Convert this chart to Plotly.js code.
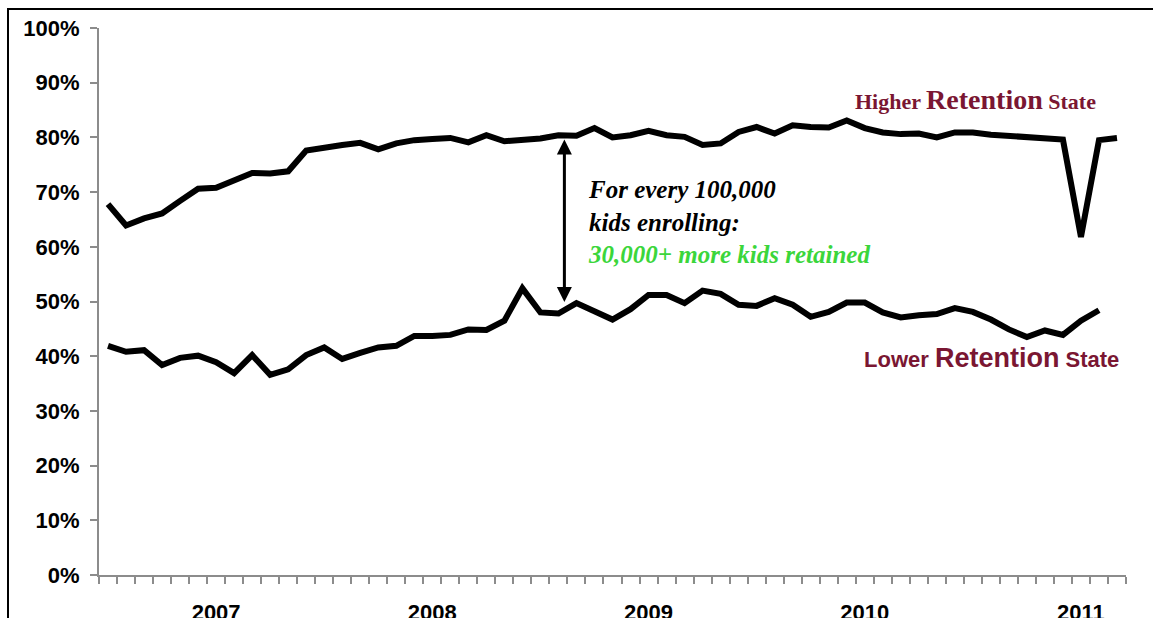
<!DOCTYPE html>
<html>
<head>
<meta charset="utf-8">
<script src="https://cdn.plot.ly/plotly-3.0.1.min.js"></script>
<style>
  html, body { margin: 0; padding: 0; background: #fff; }
  #wrap { position: relative; width: 1153px; height: 618px; overflow: hidden; }
  #frame { position: absolute; left: 7px; top: 8px; right: -10px; bottom: -10px;
           border-left: 2px solid #000; border-top: 2px solid #000; pointer-events: none; }
  #chart { position: absolute; left: 0; top: 0; width: 1153px; height: 618px; }
</style>
</head>
<body>
<div id="wrap">
  <div id="frame"></div>
  <div id="chart"></div>
</div>
<script>
// Monthly categories (Jul 2006 .. Mar 2011)
const months = [
  'Jul 2006','Aug 2006','Sep 2006','Oct 2006','Nov 2006','Dec 2006',
  'Jan 2007','Feb 2007','Mar 2007','Apr 2007','May 2007','Jun 2007','Jul 2007','Aug 2007','Sep 2007','Oct 2007','Nov 2007','Dec 2007',
  'Jan 2008','Feb 2008','Mar 2008','Apr 2008','May 2008','Jun 2008','Jul 2008','Aug 2008','Sep 2008','Oct 2008','Nov 2008','Dec 2008',
  'Jan 2009','Feb 2009','Mar 2009','Apr 2009','May 2009','Jun 2009','Jul 2009','Aug 2009','Sep 2009','Oct 2009','Nov 2009','Dec 2009',
  'Jan 2010','Feb 2010','Mar 2010','Apr 2010','May 2010','Jun 2010','Jul 2010','Aug 2010','Sep 2010','Oct 2010','Nov 2010','Dec 2010',
  'Jan 2011','Feb 2011','Mar 2011'
];

// Higher retention state (share retained)
const higherRetention = [
  0.678, 0.639, 0.652, 0.661, 0.684, 0.706, 0.708, 0.722, 0.735, 0.734,
  0.738, 0.776, 0.782, 0.786, 0.790, 0.778, 0.789, 0.795, 0.797, 0.799,
  0.791, 0.804, 0.793, 0.796, 0.798, 0.804, 0.803, 0.817, 0.800, 0.804,
  0.812, 0.804, 0.801, 0.786, 0.789, 0.810, 0.819, 0.807, 0.822, 0.819,
  0.818, 0.831, 0.817, 0.809, 0.806, 0.807, 0.800, 0.809, 0.809, 0.805,
  0.803, 0.801, 0.800, 0.796, 0.618, 0.795, 0.799
];

// Lower retention state (share retained)
const lowerRetention = [
  0.419, 0.408, 0.411, 0.384, 0.397, 0.401, 0.389, 0.369, 0.402, 0.366,
  0.376, 0.402, 0.416, 0.395, 0.406, 0.416, 0.419, 0.437, 0.437, 0.439,
  0.449, 0.448, 0.465, 0.524, 0.480, 0.478, 0.497, 0.481, 0.467, 0.486,
  0.512, 0.512, 0.497, 0.520, 0.514, 0.494, 0.492, 0.506, 0.494, 0.472,
  0.481, 0.498, 0.498, 0.480, 0.471, 0.475, 0.477, 0.488, 0.481, 0.467,
  0.449, 0.435, 0.447, 0.439, 0.465, 0.484
];

// Year tick labels and the month they sit on
const yearLabels = ['2007', '2008', '2009', '2010', '2011'];
const yearLabelMonths = ['Jan 2007', 'Jan 2008', 'Jan 2009', 'Jan 2010', 'Jan 2011'];

// Annotation values
const gapMonth = 25.33;          // position (month index) of the gap arrow
const gapTop = 0.799, gapBottom = 0.499;
const calloutLines = ['For every 100,000', 'kids enrolling:', '30,000+ more kids retained'];

const xHigher = higherRetention.map((v, i) => i);
const xLower = lowerRetention.map((v, i) => i);
const boundaries = months.map((m, i) => i - 0.5).concat([months.length - 0.5]);

const darkRed = '#7a1632';
const green = '#3bd63b';
const axisGray = '#8c8c8c';
const serif = 'Liberation Serif, Times New Roman, serif';
const sans = 'Liberation Sans, Arial, sans-serif';

const traces = [
  { x: xHigher, y: higherRetention, type: 'scatter', mode: 'lines',
    line: { color: '#000', width: 6 }, hoverinfo: 'skip', showlegend: false },
  { x: xLower, y: lowerRetention, type: 'scatter', mode: 'lines',
    line: { color: '#000', width: 6 }, hoverinfo: 'skip', showlegend: false }
];

const layout = {
  width: 1153, height: 618,
  margin: { l: 99, r: 27, t: 28, b: 43 },
  paper_bgcolor: 'rgba(0,0,0,0)',
  plot_bgcolor: 'rgba(0,0,0,0)',
  showlegend: false,
  xaxis: {
    range: [-0.5, months.length - 0.5],
    tickmode: 'array',
    tickvals: yearLabelMonths.map(m => months.indexOf(m)),
    ticktext: yearLabels,
    ticks: 'outside', ticklen: 0,
    ticklabelstandoff: 17,
    tickfont: { family: sans, size: 22, color: '#000', weight: 'bold' },
    showline: true, linecolor: axisGray, linewidth: 2,
    showgrid: false, zeroline: false,
    minor: { tickmode: 'array', tickvals: boundaries, ticks: 'outside',
             ticklen: 7, tickcolor: axisGray, tickwidth: 2, showgrid: false }
  },
  yaxis: {
    range: [0, 1],
    tickmode: 'linear', tick0: 0, dtick: 0.1,
    tickformat: '.0%',
    ticks: 'outside', ticklen: 7, tickcolor: axisGray, tickwidth: 2,
    ticklabelstandoff: 6,
    tickfont: { family: sans, size: 22, color: '#000', weight: 'bold' },
    showline: true, linecolor: axisGray, linewidth: 2,
    showgrid: false, zeroline: false
  },
  annotations: [
    { x: gapMonth, y: gapBottom, ax: gapMonth, ay: gapTop, xref: 'x', yref: 'y',
      axref: 'x', ayref: 'y', text: '', showarrow: true,
      arrowhead: 2, startarrowhead: 2, arrowside: 'end+start',
      arrowsize: 1, startarrowsize: 1, arrowwidth: 3, arrowcolor: '#000' },
    { x: 26.55, y: 0.645, xref: 'x', yref: 'y', xanchor: 'left', yanchor: 'middle',
      align: 'left', showarrow: false,
      text: '<b><i>' + calloutLines[0] + '<br>' + calloutLines[1] + '<br>' +
            '<span style="color:' + green + '">' + calloutLines[2] + '</span></i></b>',
      font: { family: serif, size: 25, color: '#000' } },
    { x: 41.35, y: 0.869, xref: 'x', yref: 'y', xanchor: 'left', yanchor: 'middle',
      showarrow: false,
      text: '<b>Higher <span style="font-size:28px">Retention</span> State</b>',
      font: { family: serif, size: 22, color: darkRed } },
    { x: 41.85, y: 0.396, xref: 'x', yref: 'y', xanchor: 'left', yanchor: 'middle',
      showarrow: false,
      text: '<b>Lower <span style="font-size:27px">Retention</span> State</b>',
      font: { family: sans, size: 22, color: darkRed } }
  ]
};

Plotly.newPlot('chart', traces, layout, { displayModeBar: false, staticPlot: true });
</script>
</body>
</html>
